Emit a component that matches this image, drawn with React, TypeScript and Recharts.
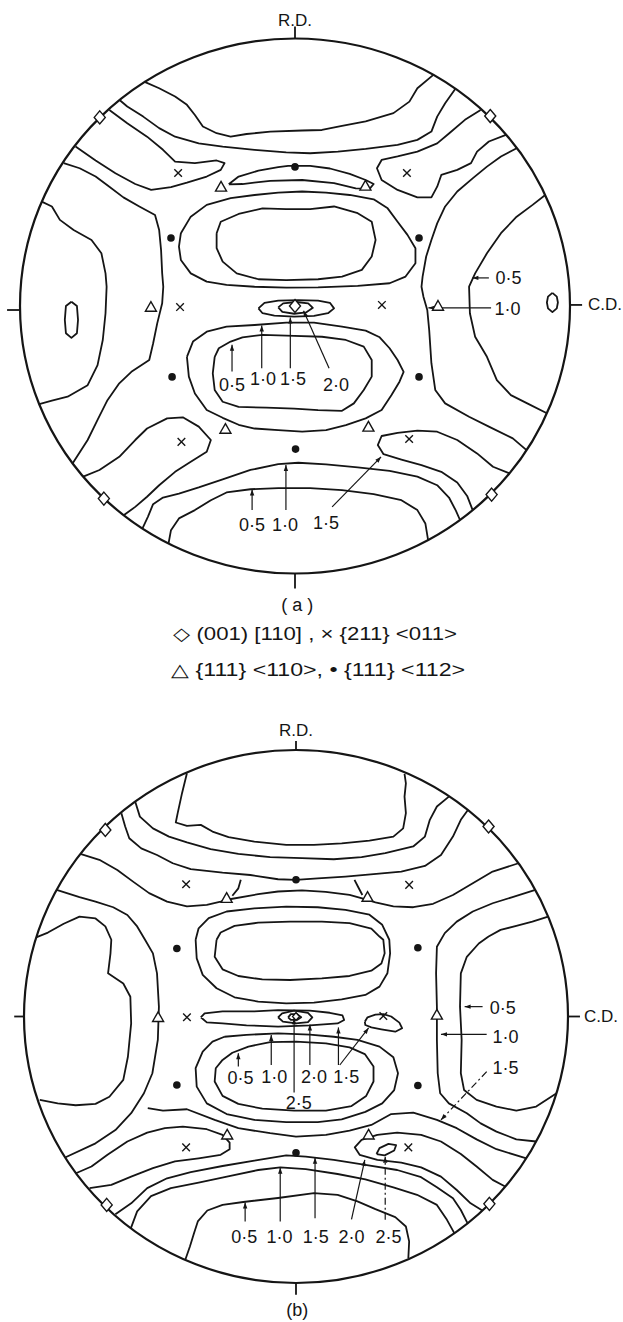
import React from 'react';
import { ScatterChart, Scatter, XAxis, YAxis, ReferenceArea, ReferenceLine, ReferenceDot } from 'recharts';

type P = [number, number];
type Lab = { x: number; y: number; t: string };
type Arrow = { from: P; to: P; dash?: boolean };

const INK = '#151515';
const FONT = '"Liberation Sans", Arial, sans-serif';

// pole figure coordinates: circle radius = 100, R.D. up, C.D. right

// ---------- (a) ----------
const aTopCap: P[] = [[-54.9,83.9],[-49.4,81.4],[-43.6,78.3],[-39.3,75.2],[-36.4,71.4],[-33.5,67.1],[-28.5,64.6],[-23.4,63.3],[-17.6,64.3],[-9.0,65.2],[2.6,65.6],[9.8,65.8],[17.1,67.3],[25.7,69.0],[35.8,72.1],[41.6,76.4],[44.5,81.4],[50.3,86.4]];
const aBand2: P[] = [[-63.9,77.1],[-61.0,74.6],[-55.2,70.8],[-49.4,66.5],[-43.6,63.3],[-35.0,60.8],[-26.3,59.6],[-14.7,58.4],[-3.2,57.4],[5.5,57.1],[15.6,57.7],[25.7,58.7],[37.3,60.2],[44.5,62.1],[49.6,65.2],[51.7,70.8],[54.6,75.8],[58.2,81.0]];
const aPocketUL: P[] = [[-67.5,73.3],[-61.0,68.3],[-53.8,63.3],[-48.0,58.4],[-43.6,54.0],[-36.4,53.4],[-28.5,54.4],[-25.6,53.4],[-27.0,50.9],[-32.1,48.4],[-39.3,46.1],[-45.1,44.4],[-52.3,43.4],[-58.1,45.6],[-65.3,49.6],[-72.5,54.4],[-79.8,59.6]];
const aPocketUR: P[] = [[67.5,73.3],[61.8,69.6],[56.1,64.6],[51.7,60.8],[44.5,57.7],[37.3,55.9],[31.5,54.6],[29.8,51.5],[31.5,47.1],[37.3,43.4],[44.5,40.6],[49.6,40.6],[51.7,44.6],[53.2,49.0],[59.0,50.9],[64.0,53.4],[66.2,57.7],[70.5,61.5],[76.7,64.0]];
const aLens: P[] = [[-24.1,45.5],[-20.5,48.4],[-13.3,50.6],[-6.1,51.9],[-2.5,52.4],[5.5,52.4],[12.7,51.4],[19.9,49.4],[25.7,47.1],[28.6,45.6],[27.2,43.9],[22.1,44.0],[14.2,45.9],[2.6,47.1],[-9.0,46.8],[-19.1,45.6],[-24.1,45.5]];
const aUpperOuter: P[] = [[-41.5,27.2],[-37.9,33.4],[-32.1,37.8],[-23.4,40.3],[-14.7,41.5],[-6.1,42.4],[2.6,42.8],[11.3,42.4],[19.9,41.5],[28.6,39.9],[33.7,36.5],[37.3,31.5],[40.9,26.6],[43.8,21.6],[43.8,16.0],[40.2,11.0],[34.4,8.5],[22.8,7.5],[8.4,7.0],[-3.2,6.9],[-14.7,7.2],[-24.9,7.9],[-32.1,9.1],[-37.9,12.2],[-41.5,17.2],[-42.2,22.2],[-41.5,27.2]];
const aUpperInner: P[] = [[-28.5,27.2],[-27.0,31.5],[-20.5,34.4],[-11.8,36.5],[-3.2,36.2],[5.5,36.2],[14.2,37.2],[22.8,34.7],[27.9,31.5],[29.3,24.7],[27.9,18.5],[24.3,13.5],[17.1,11.0],[8.4,10.0],[-3.2,9.7],[-13.3,10.0],[-21.2,12.2],[-26.3,16.6],[-28.5,21.6],[-28.5,27.2]];
const aLeftMid: P[] = [[-84.1,53.4],[-78.3,51.5],[-72.5,48.4],[-67.5,44.6],[-62.4,40.6],[-56.6,37.2],[-50.9,34.0],[-49.4,28.4],[-48.7,20.9],[-48.3,12.2],[-47.9,7.2],[-48.3,1.0],[-50.1,-6.5],[-51.6,-14.0],[-53.0,-20.2],[-59.5,-24.6],[-63.9,-28.9],[-68.2,-35.2],[-71.8,-42.6],[-75.4,-50.1],[-80.9,-58.9]];
const aPocketLL: P[] = [[-77.0,-63.8],[-71.1,-61.3],[-63.9,-56.4],[-58.1,-50.1],[-53.8,-45.8],[-46.5,-42.0],[-40.8,-41.6],[-35.0,-45.1],[-30.6,-50.1],[-32.1,-54.5],[-37.9,-58.2],[-43.6,-62.0],[-49.4,-67.0],[-53.8,-71.3],[-58.1,-75.1],[-62.3,-78.2]];
const aLeftOuter: P[] = [[-92.1,39.0],[-88.4,37.2],[-85.5,32.2],[-80.5,28.4],[-74.0,24.7],[-70.4,19.7],[-68.9,12.2],[-68.5,7.2],[-68.9,-2.7],[-69.9,-12.7],[-71.8,-22.1],[-75.4,-29.6],[-82.7,-33.9],[-88.4,-35.4],[-93.0,-36.7]];
const aRightMid: P[] = [[80.6,59.0],[74.9,55.9],[69.8,52.1],[64.7,47.8],[59.0,42.8],[54.6,37.2],[51.7,30.9],[49.6,24.7],[47.7,18.5],[46.4,11.0],[46.0,7.2],[46.7,3.5],[48.1,-1.5],[48.8,-9.0],[49.6,-21.4],[51.0,-31.4],[54.6,-36.4],[63.3,-41.4],[70.5,-45.1],[79.2,-49.5],[84.2,-53.9]];
const aRightOuter: P[] = [[91.0,41.5],[86.4,37.8],[80.6,33.4],[74.9,27.2],[69.8,19.7],[65.5,12.2],[63.3,7.2],[63.6,-2.7],[65.5,-11.5],[69.8,-19.0],[73.4,-27.7],[78.5,-33.3],[85.0,-36.7],[91.6,-40.1]];
const aLow10: P[] = [[-55.5,-83.2],[-53.5,-78.8],[-51.6,-74.1],[-48.0,-71.6],[-42.2,-70.1],[-35.0,-67.8],[-26.3,-64.8],[-16.2,-61.3],[-6.1,-59.1],[1.2,-58.6],[11.3,-59.2],[22.8,-60.3],[34.4,-61.6],[44.5,-63.8],[51.7,-67.0],[56.0,-71.6],[58.5,-76.5],[60.0,-80.0]];
const aLow05: P[] = [[-46.0,-88.8],[-45.1,-83.8],[-42.2,-79.4],[-36.4,-76.3],[-30.6,-72.6],[-24.9,-69.7],[-16.2,-68.5],[-6.1,-68.1],[5.5,-68.1],[17.1,-68.8],[28.6,-70.3],[38.7,-72.6],[44.5,-76.3],[47.4,-81.3],[48.4,-87.5]];
const aPocketLR: P[] = [[78.0,-62.6],[72.0,-60.1],[66.2,-55.1],[59.0,-50.1],[51.7,-47.0],[44.5,-46.6],[37.3,-47.4],[31.5,-48.6],[30.1,-52.0],[32.2,-55.4],[38.7,-57.4],[46.0,-59.5],[53.2,-62.0],[59.0,-66.0],[62.6,-71.0],[64.6,-76.3]];
const aCentre15: P[] = [[-13.3,-0.9],[-11.1,1.2],[-6.1,2.0],[1.2,2.2],[8.4,2.0],[12.7,1.2],[14.2,-0.9],[12.0,-2.7],[6.9,-3.7],[-0.3,-4.0],[-7.5,-3.6],[-11.8,-2.7],[-13.3,-0.9]];
const aCentre20: P[] = [[-6.1,-0.5],[-4.3,1.0],[0.4,1.5],[4.8,1.0],[6.5,-0.7],[4.0,-2.4],[-0.3,-2.9],[-4.6,-2.2],[-6.1,-0.5]];
const aLowerOuter: P[] = [[-39.3,-19.0],[-37.1,-13.3],[-32.1,-9.6],[-24.9,-7.7],[-14.7,-7.1],[-3.2,-6.2],[6.9,-6.2],[17.1,-7.7],[25.7,-9.2],[30.8,-11.7],[34.4,-15.8],[37.3,-20.2],[39.5,-24.6],[38.0,-28.3],[35.1,-33.3],[31.5,-38.9],[25.7,-42.0],[18.5,-44.5],[11.3,-46.4],[2.6,-47.0],[-6.1,-46.4],[-14.7,-45.8],[-20.5,-44.4],[-26.3,-41.8],[-32.1,-38.9],[-36.4,-32.7],[-38.6,-26.4],[-39.3,-19.0]];
const aLowerInner: P[] = [[-29.2,-19.0],[-27.7,-15.8],[-23.4,-13.3],[-19.1,-11.7],[-11.8,-10.8],[-0.3,-11.2],[9.8,-11.5],[18.5,-12.7],[25.0,-15.2],[27.9,-20.2],[27.9,-26.4],[25.0,-31.4],[21.4,-36.4],[17.1,-39.2],[8.4,-38.9],[-0.3,-38.4],[-10.4,-38.0],[-20.5,-37.7],[-26.3,-35.8],[-29.2,-31.4],[-29.9,-25.2],[-29.2,-19.0]];
const aIsleL: P[] = [[-81.3,1.6],[-79.3,0],[-78.9,-5.2],[-79.3,-10.2],[-81.3,-11.9],[-83.3,-10.2],[-83.7,-5.2],[-83.3,0],[-81.3,1.6]];
const aIsleR: P[] = [[93.6,4.9],[95.2,3.5],[95.6,1.3],[95.2,-0.9],[93.6,-2.3],[92.0,-0.9],[91.6,1.3],[92.0,3.5],[93.6,4.9]];

const aContours: P[][] = [aTopCap, aBand2, aPocketUL, aPocketUR, aLens, aUpperOuter, aUpperInner, aLeftMid, aPocketLL, aLeftOuter, aRightMid, aRightOuter, aLow10, aLow05, aPocketLR, aCentre15, aCentre20, aLowerOuter, aLowerInner, aIsleL, aIsleR];

const aDiamonds: P[] = [[-71,70.5],[71,71],[-69.5,-72],[71.5,-70.5],[0,0]];
const aCrosses: P[] = [[-42.5,49.7],[40.7,49.7],[-41.8,-0.4],[31.6,0.4],[-41.3,-50.8],[41.5,-49.7]];
const aTriangles: P[] = [[-26.9,44.5],[25.6,44.9],[-52.4,-0.4],[52.0,0],[-25.3,-46.0],[26.7,-45.2]];
const aDots: P[] = [[0,52.0],[-45.1,25.4],[45.1,25.4],[-44.7,-26.5],[45.1,-26.5],[0.2,-53.5]];

const aLabels: Lab[] = [
  { x: 77.6, y: 10.5, t: '0·5' }, { x: 77.3, y: -1.1, t: '1·0' },
  { x: -22.9, y: -29.5, t: '0·5' }, { x: -11.6, y: -27.3, t: '1·0' }, { x: -0.7, y: -27.3, t: '1·5' }, { x: 14.9, y: -29.5, t: '2·0' },
  { x: -15.6, y: -81.9, t: '0·5' }, { x: -3.6, y: -81.9, t: '1·0' }, { x: 11.3, y: -81.1, t: '1·5' },
];
const aArrows: Arrow[] = [
  { from: [70.5, 10.5], to: [64.5, 10.5] },
  { from: [71.3, -0.7], to: [48.5, -0.7] },
  { from: [-22.9, -24.5], to: [-22.9, -14.5] },
  { from: [-12.1, -23.3], to: [-12.1, -7.3] },
  { from: [-1.7, -23.3], to: [-1.7, -4.3] },
  { from: [12.4, -23.3], to: [3.1, -1.8] },
  { from: [-15.6, -76.3], to: [-15.6, -68.6] },
  { from: [-3.3, -76.3], to: [-3.3, -59.4] },
  { from: [13.5, -75.1], to: [31.3, -56.4] },
];

// ---------- (b) ----------
const bTopCap: P[] = [[-40.1,91.3],[-41.9,83.8],[-43.5,76.3],[-44.2,72.8],[-40.1,71.5],[-35.0,71.9],[-30.7,69.4],[-24.8,67.3],[-15.3,65.6],[-3.6,64.4],[6.6,64.4],[16.8,65.0],[27.0,66.0],[35.8,67.5],[39.4,70.6],[40.4,76.3],[39.9,82.5],[40.4,87.5],[39.9,91.0]];
const bBand2: P[] = [[-59.1,80.6],[-57.4,75.0],[-52.6,70.6],[-46.7,67.5],[-40.1,65.3],[-31.4,62.8],[-21.2,61.0],[-9.5,59.8],[2.2,59.4],[13.9,59.0],[24.1,59.8],[32.8,61.3],[43.1,63.8],[47.4,67.5],[49.2,73.8],[51.8,78.8],[56.2,82.5]];
const bBand3: P[] = [[-64.2,76.3],[-62.8,71.3],[-61.3,66.9],[-56.9,63.1],[-51.1,60.6],[-45.3,57.5],[-38.7,55.3],[-27.0,54.0],[-16.8,53.1],[-6.6,51.5],[0,51.3],[8.0,51.8],[18.2,52.5],[28.5,53.4],[38.7,54.4],[47.4,56.5],[53.3,60.6],[57.7,67.5],[60.6,73.8],[63.2,77.5]];
const bBandW: P[] = [[-79.3,61.0],[-72.3,58.8],[-65.7,55.0],[-59.9,50.6],[-54.0,46.3],[-47.4,43.1],[-40.1,41.3],[-32.8,41.9],[-27.7,43.1],[-24.4,44.0],[-13.9,45.9],[-6.6,46.9],[2.2,47.3],[10.9,46.8],[19.7,45.6],[25.3,44.0],[29.2,42.8],[35.8,41.3],[43.1,41.0],[50.4,42.3],[57.7,45.6],[65.0,50.0],[72.3,54.4],[81.8,57.5]];
const bHookL: P[] = [[-20.3,51.3],[-21.2,48.1],[-23.4,45.3]];
const bHookR: P[] = [[21.5,51.3],[22.9,48.5],[24.4,45.6]];
const bLeftMid: P[] = [[-88.0,47.5],[-79.6,44.8],[-73.7,43.1],[-67.2,41.0],[-62.0,38.1],[-58.4,33.8],[-55.5,28.8],[-52.6,23.7],[-51.1,16.2],[-50.4,3.7],[-50.8,-8.8],[-52.8,-21.3],[-55.9,-28.8],[-60.6,-36.3],[-66.4,-42.6],[-73.7,-47.6],[-84.7,-52.8]];
const bLeftOuter: P[] = [[-95.3,29.8],[-91.2,31.5],[-85.4,34.8],[-79.6,37.5],[-73.7,36.8],[-70.1,33.8],[-67.9,28.8],[-68.2,23.7],[-69.1,16.2],[-63.5,12.4],[-60.9,7.4],[-60.6,-2.6],[-61.8,-15.1],[-63.5,-23.8],[-68.6,-30.1],[-73.7,-32.8],[-81.0,-33.3],[-87.6,-32.6],[-94.2,-31.3]];
const bRightOuter: P[] = [[92.7,37.5],[86.9,35.6],[81.0,34.0],[75.2,32.5],[70.8,30.0],[67.2,27.4],[62.8,22.4],[60.6,16.2],[60.3,3.7],[60.9,-8.8],[60.6,-21.3],[61.8,-27.6],[66.4,-31.3],[73.7,-33.8],[81.0,-35.3],[88.3,-33.8],[95.8,-28.8]];
const bRightMid: P[] = [[88.0,47.5],[79.6,44.8],[72.3,42.5],[65.0,39.4],[59.1,35.6],[54.7,31.3],[51.8,26.2],[51.5,16.2],[51.8,3.7],[51.8,-8.8],[52.1,-21.3],[53.0,-28.8],[56.2,-32.6],[62.8,-36.3],[67.9,-40.1],[73.7,-43.2],[81.0,-46.1],[88.3,-46.9]];
const bUpperOuter: P[] = [[-36.9,28.8],[-35.8,33.1],[-32.1,36.9],[-25.5,39.4],[-15.3,40.6],[-3.6,41.2],[8.0,41.0],[18.2,40.0],[27.0,38.2],[31.7,34.4],[34.3,28.8],[34.6,23.7],[33.6,16.2],[30.7,11.2],[25.5,8.1],[16.8,6.4],[6.6,5.2],[-3.6,4.9],[-13.9,5.6],[-22.6,7.2],[-29.2,10.6],[-34.3,15.6],[-36.5,21.8],[-36.9,28.8]];
const bUpperInner: P[] = [[-29.2,28.8],[-27.7,31.5],[-22.6,34.0],[-13.9,35.2],[-2.2,35.6],[9.5,35.6],[19.7,35.0],[27.7,33.0],[30.7,30.0],[32.1,28.8],[32.6,23.7],[31.4,19.9],[27.7,17.2],[19.7,15.2],[9.5,14.3],[-2.2,13.7],[-12.4,13.9],[-21.2,15.2],[-27.0,17.7],[-29.9,22.4],[-29.2,28.8]];
const bCigar: P[] = [[-35.0,-0.3],[-33.6,1.2],[-27.0,1.9],[-15.3,1.9],[-6.6,2.4],[5.1,2.2],[12.4,1.4],[17.1,0.4],[17.7,-1.3],[15.3,-2.6],[5.1,-3.3],[-6.6,-3.8],[-18.2,-3.3],[-27.0,-2.6],[-32.8,-2.2],[-35.0,-0.3]];
const bCentre20: P[] = [[-6.6,-0.3],[-5.1,1.2],[-0.7,2.2],[4.4,1.4],[6.0,-0.3],[4.4,-2.1],[0,-2.6],[-4.8,-1.9],[-6.6,-0.3]];
const bCentre25: P[] = [[-2.9,-0.3],[-1.9,0.9],[0.4,0.9],[1.9,-0.3],[0.4,-1.3],[-1.9,-1.3],[-2.9,-0.3]];
const bIsleX: P[] = [[25.3,-2.0],[26.3,-0.3],[29.2,0.7],[32.1,0.9],[35.0,0],[38.0,-2.3],[39.0,-4.4],[36.5,-5.7],[31.4,-4.8],[27.7,-4.1],[25.5,-3.2],[25.3,-2.0]];
const bLowerOuter: P[] = [[-26.3,-7.6],[-18.2,-6.9],[-6.6,-6.3],[5.1,-6.8],[13.9,-7.6],[22.6,-8.8],[30.7,-11.3],[35.8,-15.3],[37.5,-21.3],[36.1,-27.6],[31.7,-32.6],[25.5,-35.8],[16.8,-38.6],[8.0,-39.6],[-3.6,-39.6],[-15.3,-38.8],[-25.5,-36.6],[-32.8,-32.6],[-36.5,-26.3],[-36.9,-19.4],[-34.3,-13.2],[-30.7,-9.4],[-26.3,-7.6]];
const bLowerInner: P[] = [[-27.0,-16.3],[-23.4,-13.6],[-17.5,-11.3],[-9.5,-9.6],[0,-9.4],[11.0,-10.1],[19.7,-11.6],[25.3,-14.1],[28.5,-18.8],[28.5,-24.4],[25.8,-29.8],[20.4,-33.6],[11.0,-35.3],[-0.7,-35.3],[-12.4,-34.6],[-21.2,-32.8],[-27.0,-29.8],[-29.9,-24.4],[-29.5,-19.4],[-27.0,-16.3]];
const bBandC: P[] = [[-54.5,-34.4],[-48.9,-35.3],[-40.1,-34.8],[-29.9,-38.8],[-21.2,-41.9],[-9.5,-43.8],[0,-45.1],[11.0,-44.4],[19.7,-42.8],[27.7,-40.7],[35.0,-36.6],[43.1,-36.1],[51.8,-38.8],[59.1,-41.9],[66.4,-46.1],[73.7,-49.8],[84.7,-53.2]];
const bPocketLL: P[] = [[-80.9,-58.8],[-75.2,-56.3],[-69.3,-51.9],[-62.0,-46.9],[-54.7,-43.6],[-48.2,-41.9],[-41.6,-41.3],[-32.8,-42.3],[-27.0,-44.4],[-24.4,-47.3],[-24.4,-49.8],[-27.7,-51.9],[-35.8,-53.2],[-44.5,-54.4],[-52.6,-56.9],[-60.6,-60.1],[-67.9,-63.2],[-75.9,-64.4]];
const bPocketLR: P[] = [[76.9,-63.8],[72.3,-61.3],[66.4,-56.3],[60.6,-51.6],[53.3,-46.9],[46.0,-44.4],[37.2,-43.6],[29.9,-44.4],[24.1,-46.3],[21.6,-49.1],[23.4,-51.9],[29.9,-53.8],[38.7,-54.8],[46.0,-56.6],[53.3,-60.1],[59.1,-65.1],[64.2,-70.1],[68.5,-72.8]];
const bIsle25: P[] = [[29.6,-51.6],[30.7,-49.4],[34.0,-47.8],[36.8,-48.3],[36.1,-50.3],[32.6,-52.1],[29.6,-51.6]];
const bLow15: P[] = [[-66.4,-74.2],[-60.6,-70.1],[-54.7,-64.4],[-47.4,-60.7],[-38.7,-58.4],[-27.0,-56.1],[-15.3,-54.1],[-3.6,-52.1],[3.6,-52.6],[13.9,-53.8],[25.5,-55.7],[37.2,-57.6],[46.0,-60.3],[51.8,-64.1],[57.7,-68.2],[60.6,-72.6],[63.1,-77.6]];
const bLow10: P[] = [[-60.7,-79.4],[-58.4,-73.1],[-53.3,-67.4],[-46.0,-64.4],[-35.8,-62.3],[-24.1,-59.8],[-13.9,-57.6],[-5.8,-56.6],[3.6,-57.3],[15.3,-59.1],[25.5,-61.1],[35.8,-64.1],[44.5,-66.9],[51.8,-70.7],[55.5,-76.3],[58.2,-81.3]];
const bLow05: P[] = [[-40.7,-91.3],[-39.0,-86.3],[-37.5,-81.3],[-36.1,-76.9],[-32.6,-72.8],[-27.0,-70.7],[-19.4,-69.6],[-6.6,-68.1],[6.6,-66.3],[15.3,-66.9],[22.6,-69.4],[29.2,-72.3],[36.5,-75.3],[40.4,-78.8],[41.6,-84.4],[41.3,-90.7]];

const bContours: P[][] = [bTopCap, bBand2, bBand3, bBandW, bHookL, bHookR, bLeftMid, bLeftOuter, bRightOuter, bRightMid, bUpperOuter, bUpperInner, bCigar, bCentre20, bCentre25, bIsleX, bLowerOuter, bLowerInner, bBandC, bPocketLL, bPocketLR, bIsle25, bLow15, bLow10, bLow05];

const bDiamonds: P[] = [[-70.1,70.0],[70.8,71.3],[-69.6,-70.7],[71.1,-70.3]];
const bSmallDiamond: P[] = [[0,0]];
const bCrosses: P[] = [[-40.4,49.6],[41.6,49.4],[-40.1,-0.3],[32.1,0.2],[-40.4,-49.1],[41.3,-49.1]];
const bTriangles: P[] = [[-25.5,44.4],[26.3,44.8],[-50.7,-0.3],[51.8,0.6],[-25.3,-44.4],[26.7,-44.4]];
const bDots: P[] = [[0,51.3],[-43.8,25.5],[44.8,25.8],[-43.8,-25.7],[44.8,-25.9],[0,-51.1]];

const bLabels: Lab[] = [
  { x: 76.0, y: 3.1, t: '0·5' }, { x: 77.0, y: -7.6, t: '1·0' }, { x: 77.0, y: -19.4, t: '1·5' },
  { x: -20.4, y: -23.2, t: '0·5' }, { x: -8.0, y: -22.8, t: '1·0' }, { x: 6.6, y: -22.8, t: '2·0' }, { x: 18.5, y: -22.8, t: '1·5' }, { x: 1.0, y: -32.6, t: '2·5' },
  { x: -19.0, y: -82.6, t: '0·5' }, { x: -6.1, y: -82.6, t: '1·0' }, { x: 7.3, y: -82.6, t: '1·5' }, { x: 20.4, y: -82.6, t: '2·0' }, { x: 34.0, y: -82.6, t: '2·5' },
];
const bArrows: Arrow[] = [
  { from: [68.6, 3.7], to: [62.0, 3.7] },
  { from: [70.1, -6.7], to: [53.3, -6.7] },
  { from: [70.1, -20.7], to: [53.3, -38.8], dash: true },
  { from: [-21.2, -18.8], to: [-21.2, -13.8] },
  { from: [-9.1, -18.2], to: [-9.1, -6.9] },
  { from: [-0.7, -28.5], to: [-0.7, -0.7] },
  { from: [5.1, -18.2], to: [5.1, -3.0] },
  { from: [15.6, -18.2], to: [15.6, -4.1] },
  { from: [16.1, -18.2], to: [26.7, -4.3] },
  { from: [-18.7, -76.9], to: [-18.7, -69.8] },
  { from: [-5.8, -76.9], to: [-5.8, -56.8] },
  { from: [7.0, -75.7], to: [7.0, -53.0] },
  { from: [20.4, -76.1], to: [25.3, -53.8] },
  { from: [32.8, -76.3], to: [32.8, -52.6], dash: true },
];

// ---------- drawing helpers ----------
const toPts = (a: P[]) => a.map(([x, y]) => ({ x, y }));
const none = () => <g />;

const Diamond = (p: any) => {
  const s = p.small ? 4 : 6.5;
  return <path d={`M${p.cx},${p.cy - s}L${p.cx + s * 0.85},${p.cy}L${p.cx},${p.cy + s}L${p.cx - s * 0.85},${p.cy}Z`} fill="#fff" stroke={INK} strokeWidth={1.4} />;
};
const Cross = (p: any) => (
  <path d={`M${p.cx - 3.8},${p.cy - 3.8}L${p.cx + 3.8},${p.cy + 3.8}M${p.cx + 3.8},${p.cy - 3.8}L${p.cx - 3.8},${p.cy + 3.8}`} stroke={INK} strokeWidth={1.4} />
);
const Tri = (p: any) => (
  <path d={`M${p.cx},${p.cy - 5.5}L${p.cx + 5.5},${p.cy + 4.2}L${p.cx - 5.5},${p.cy + 4.2}Z`} fill="#fff" stroke={INK} strokeWidth={1.4} />
);
const Dot = (p: any) => <circle cx={p.cx} cy={p.cy} r={3.8} fill={INK} />;
const Label = (p: any) => (
  <text x={p.cx} y={p.cy} textAnchor="middle" dominantBaseline="central" fontSize={18} fontFamily={FONT} fill={INK}>{p.payload.t}</text>
);
const Head = (p: any) => {
  const d = p.payload;
  if (!d || !d.head) return <g />;
  const ang = Math.atan2(-(d.y - d.fy), d.x - d.fx);
  const c = Math.cos(ang), s = Math.sin(ang);
  const bx = p.cx - 6 * c, by = p.cy - 6 * s;
  return <path d={`M${p.cx},${p.cy}L${bx - 2.2 * s},${by + 2.2 * c}L${bx + 2.2 * s},${by - 2.2 * c}Z`} fill={INK} />;
};
const Outline = (p: any) => {
  const h = Math.abs(p.height);
  const top = p.height < 0 ? p.y + p.height : p.y;
  return <ellipse cx={p.x + p.width / 2} cy={top + h / 2} rx={p.width / 2} ry={h / 2} fill="none" stroke={INK} strokeWidth={2.2} />;
};
const textAt = (t: string, size: number, anchor: string = 'middle', len?: number) => (p: any) => (
  <text x={p.cx} y={p.cy} textAnchor={anchor as any} dominantBaseline="central" fontSize={size} fontFamily={FONT} fill={INK} textLength={len} lengthAdjust="spacingAndGlyphs">{t}</text>
);

type Fig = {
  contours: P[][]; diamonds: P[]; smallDiamonds: P[]; crosses: P[]; triangles: P[]; dots: P[];
  labels: Lab[]; arrows: Arrow[];
  ticks: P[][]; texts: { x: number; y: number; t: string; size: number; anchor?: string; len?: number }[];
};

function PoleFigure({ fig, width, height, margin }: { fig: Fig; width: number; height: number; margin: any }) {
  return (
    <ScatterChart width={width} height={height} margin={margin}>
      <XAxis type="number" dataKey="x" domain={[-100, 100]} hide />
      <YAxis type="number" dataKey="y" domain={[-100, 100]} hide />
      <ReferenceArea x1={-100} x2={100} y1={-100} y2={100} shape={Outline} ifOverflow="visible" />
      {fig.ticks.map((t, i) => (
        <ReferenceLine key={'t' + i} segment={[{ x: t[0][0], y: t[0][1] }, { x: t[1][0], y: t[1][1] }]} stroke={INK} strokeWidth={1.8} ifOverflow="visible" />
      ))}
      {fig.texts.map((t, i) => (
        <ReferenceDot key={'x' + i} x={t.x} y={t.y} r={0} ifOverflow="visible" shape={textAt(t.t, t.size, t.anchor, t.len)} />
      ))}
      {fig.contours.map((c, i) => (
        <Scatter key={'c' + i} data={toPts(c)} line={{ stroke: INK, strokeWidth: 1.8, strokeLinejoin: 'round' }} lineType="joint" shape={none} isAnimationActive={false} />
      ))}
      {fig.arrows.map((a, i) => (
        <Scatter
          key={'a' + i}
          data={[{ x: a.from[0], y: a.from[1] }, { x: a.to[0], y: a.to[1], fx: a.from[0], fy: a.from[1], head: true }]}
          line={{ stroke: INK, strokeWidth: 1.2, strokeDasharray: a.dash ? '7 3 2 3' : undefined }}
          lineType="joint"
          shape={Head}
          isAnimationActive={false}
        />
      ))}
      <Scatter data={toPts(fig.diamonds)} shape={Diamond} isAnimationActive={false} />
      <Scatter data={toPts(fig.smallDiamonds)} shape={(p: any) => <Diamond {...p} small />} isAnimationActive={false} />
      <Scatter data={toPts(fig.crosses)} shape={Cross} isAnimationActive={false} />
      <Scatter data={toPts(fig.triangles)} shape={Tri} isAnimationActive={false} />
      <Scatter data={toPts(fig.dots)} shape={Dot} isAnimationActive={false} />
      <Scatter data={fig.labels} shape={Label} isAnimationActive={false} />
    </ScatterChart>
  );
}

const figA: Fig = {
  contours: aContours, diamonds: aDiamonds, smallDiamonds: [], crosses: aCrosses, triangles: aTriangles, dots: aDots,
  labels: aLabels, arrows: aArrows,
  ticks: [[[0, 100], [0, 104.5]], [[0, -100], [0, -105.6]], [[-100, -1.5], [-104.7, -1.5]], [[100, 0.4], [104.4, 0.4]]],
  texts: [
    { x: 0, y: 106.8, t: 'R.D.', size: 17 },
    { x: 106.5, y: 0.4, t: 'C.D.', size: 17, anchor: 'start' },
    { x: 0.8, y: -111.8, t: '( a )', size: 18 },
    { x: 7.3, y: -122.6, t: '◇  (001) [110] ,  × {211} <011>', size: 18, len: 284 },
    { x: 8.4, y: -136.1, t: '△  {111} <110>,  • {111} <112>', size: 18, len: 294 },
  ],
};

const figB: Fig = {
  contours: bContours, diamonds: bDiamonds, smallDiamonds: bSmallDiamond, crosses: bCrosses, triangles: bTriangles, dots: bDots,
  labels: bLabels, arrows: bArrows,
  ticks: [[[0, 100], [0, 103.4]], [[0, -100], [0, -104.4]], [[-100, 0], [-103.6, 0]], [[100, 0], [104.4, 0]]],
  texts: [
    { x: 0, y: 107.5, t: 'R.D.', size: 17 },
    { x: 105.9, y: 0, t: 'C.D.', size: 17, anchor: 'start' },
    { x: 0.5, y: -110.1, t: '(b)', size: 18 },
  ],
};

export default function App() {
  return (
    <div style={{ position: 'absolute', left: 0, top: 0, width: 623, height: 1322, background: '#fff' }}>
      <div style={{ position: 'absolute', left: 0, top: 0 }}>
        <PoleFigure fig={figA} width={623} height={700} margin={{ top: 38.5, right: 53, bottom: 126.5, left: 20 }} />
      </div>
      <div style={{ position: 'absolute', left: 0, top: 700 }}>
        <PoleFigure fig={figB} width={623} height={622} margin={{ top: 50, right: 55, bottom: 39, left: 24 }} />
      </div>
    </div>
  );
}
